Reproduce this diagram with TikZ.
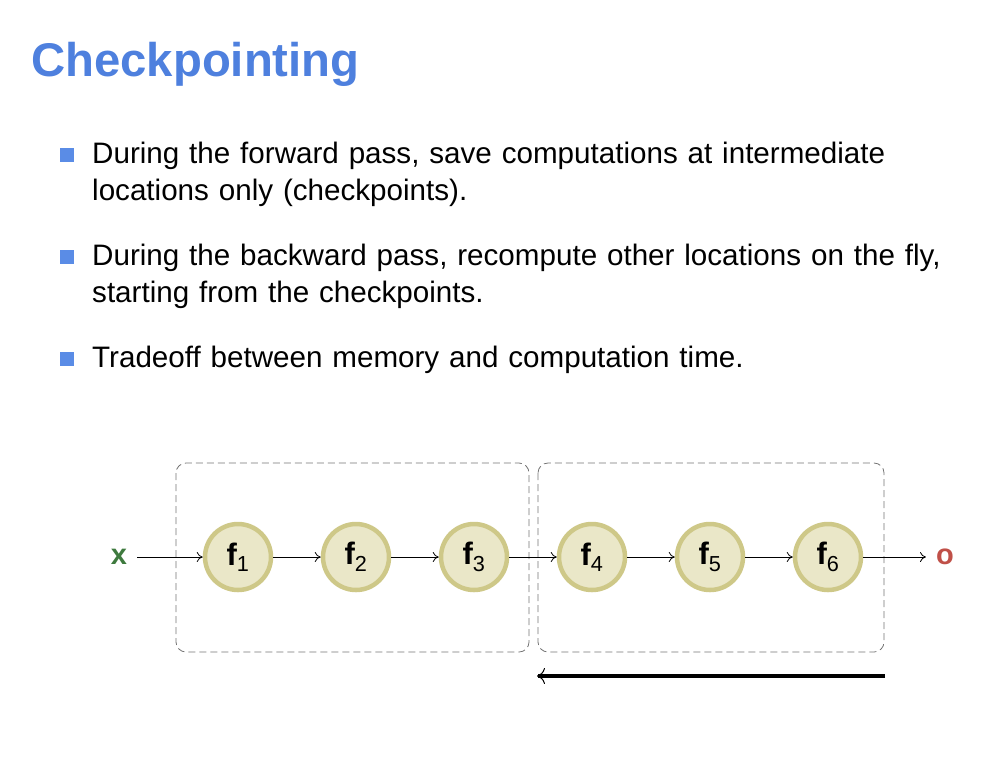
\documentclass[tikz,border=0pt]{standalone}
\usepackage{fontspec}
\setmainfont{Liberation Sans}
\usetikzlibrary{arrows.meta}
\definecolor{titleblue}{RGB}{78,128,222}
\definecolor{bulletblue}{RGB}{90,140,230}
\definecolor{nodefill}{RGB}{234,231,200}
\definecolor{nodeedge}{RGB}{206,200,136}
\definecolor{xgreen}{RGB}{62,122,62}
\definecolor{ored}{RGB}{192,80,72}
\tikzset{
  fnode/.style={circle, draw=nodeedge, line width=4.5pt, fill=nodefill, minimum size=66pt, inner sep=0pt, font=\fontsize{31}{34}\selectfont},
  endnode/.style={font=\fontsize{29}{32}\selectfont\bfseries, inner sep=10pt},
  conn/.style={-{To[length=6pt,width=10pt]}, line width=0.8pt},
  groupbox/.style={draw=black!55, dashed, dash pattern=on 7pt off 4pt, rounded corners=10pt, line width=0.8pt},
  bodytext/.style={anchor=base west, align=left, font=\fontsize{29.6}{37}\selectfont, inner sep=0pt},
  bulletsq/.style={fill=bulletblue, minimum size=14pt, inner sep=0pt}
}
\begin{document}
\begin{tikzpicture}[x=1pt,y=-1pt]
\useasboundingbox (0,0) rectangle (1008,756);
\node[anchor=base west, inner sep=0pt, text=titleblue, font=\fontsize{47.3}{52}\selectfont\bfseries] (title) at (31,76) {Checkpointing};

\node[bulletsq] (b1) at (67,155) {};
\node[bodytext, text width=900pt] (t1) at (92,163) {During the forward pass, save computations at intermediate\\locations only (checkpoints).};
\node[bulletsq] (b2) at (67,257) {};
\node[bodytext, text width=900pt] (t2) at (92,265) {During the backward pass, recompute other locations on the fly,\\starting from the checkpoints.};
\node[bulletsq] (b3) at (67,359) {};
\node[bodytext, text width=900pt] (t3) at (92,367) {Tradeoff between memory and computation time.};

\draw[groupbox] (176,463) rectangle (529,652);
\draw[groupbox] (538,463) rectangle (884,652);

\node[endnode, text=xgreen] (x) at (119,557) {x};
\node[fnode] (f1) at (238,557) {\textbf{f}$_{\mathrm{1}}$};
\node[fnode] (f2) at (356,557) {\textbf{f}$_{\mathrm{2}}$};
\node[fnode] (f3) at (474,557) {\textbf{f}$_{\mathrm{3}}$};
\node[fnode] (f4) at (592,557) {\textbf{f}$_{\mathrm{4}}$};
\node[fnode] (f5) at (710,557) {\textbf{f}$_{\mathrm{5}}$};
\node[fnode] (f6) at (828,557) {\textbf{f}$_{\mathrm{6}}$};
\node[endnode, text=ored] (o) at (945,557) {o};

\draw[conn] (x) -- (f1);
\draw[conn] (f1) -- (f2);
\draw[conn] (f2) -- (f3);
\draw[conn] (f3) -- (f4);
\draw[conn] (f4) -- (f5);
\draw[conn] (f5) -- (f6);
\draw[conn] (f6) -- (o);

\coordinate (bs) at (885,676);
\coordinate (be) at (537,676);
\draw[line width=3.5pt, -{To[length=8pt,width=16pt,line width=1pt]}] (bs) -- (be);
\end{tikzpicture}
\end{document}
